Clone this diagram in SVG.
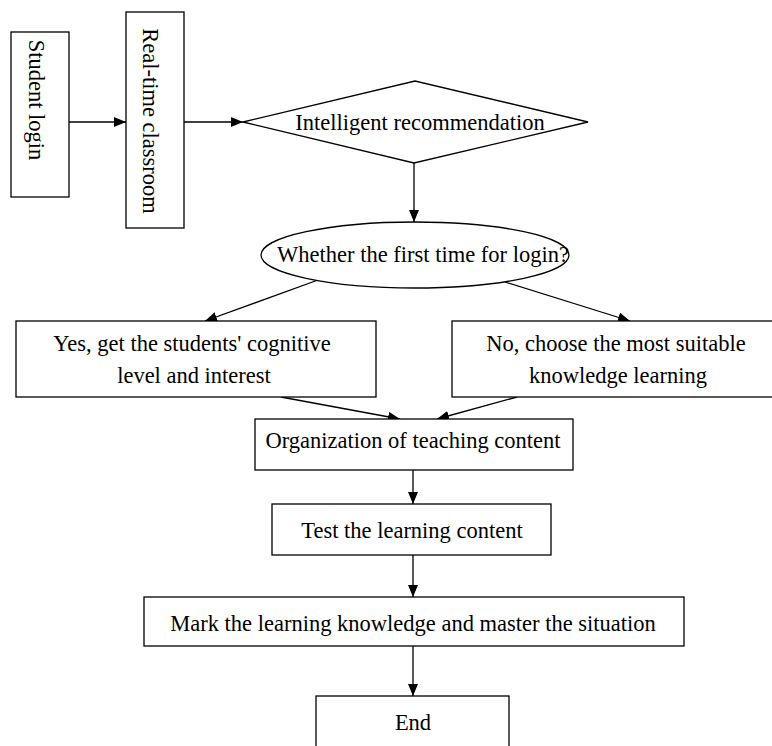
<svg xmlns="http://www.w3.org/2000/svg" width="772" height="746" viewBox="0 0 772 746">
<style>
.n{fill:#fff;stroke:#000;stroke-width:1.3}
.t{font-family:"Liberation Serif","Times New Roman",serif;font-size:22.5px;fill:#000;text-anchor:middle}
.c{stroke:#000;stroke-width:1.3;fill:none;marker-end:url(#ah)}
</style>
<defs>
<marker id="ah" viewBox="0 0 12 10" refX="12" refY="5" markerWidth="12" markerHeight="10" markerUnits="userSpaceOnUse" orient="auto">
<path d="M0,0 L12,5 L0,10 z" fill="#000"/>
</marker>
</defs>
<rect width="772" height="746" fill="#fff"/>
<g id="connectors">
<line class="c" x1="69" y1="122" x2="126" y2="122"/>
<line class="c" x1="184" y1="122" x2="243" y2="122"/>
<line class="c" x1="414" y1="163" x2="414" y2="222"/>
<line class="c" x1="318" y1="280" x2="205" y2="321"/>
<line class="c" x1="505" y1="282" x2="630" y2="321"/>
<line class="c" x1="281" y1="397" x2="400" y2="419"/>
<line class="c" x1="517" y1="397" x2="437" y2="419"/>
<line class="c" x1="413" y1="470" x2="413" y2="504"/>
<line class="c" x1="413" y1="555" x2="413" y2="597"/>
<line class="c" x1="413" y1="646" x2="413" y2="696"/>
</g>
<g id="student-login">
<rect class="n" x="11" y="32" width="58" height="165"/>
<text class="t" transform="translate(29,100) rotate(90)">Student login</text>
</g>
<g id="real-time-classroom">
<rect class="n" x="126" y="12" width="58" height="216"/>
<text class="t" transform="translate(143,121) rotate(90)">Real-time classroom</text>
</g>
<g id="intelligent-recommendation">
<polygon class="n" points="243,122 415,81 588,122 414,163"/>
<text class="t" x="420" y="130">Intelligent recommendation</text>
</g>
<g id="first-time">
<ellipse class="n" cx="415" cy="255" rx="154" ry="33"/>
<text class="t" x="423" y="262">Whether the first time for login?</text>
</g>
<g id="yes">
<rect class="n" x="16" y="321" width="360" height="76"/>
<text class="t" x="192" y="351">Yes, get the students' cognitive</text>
<text class="t" x="194" y="383">level and interest</text>
</g>
<g id="no">
<rect class="n" x="452" y="321" width="325" height="76"/>
<text class="t" x="616" y="351">No, choose the most suitable</text>
<text class="t" x="618" y="383">knowledge learning</text>
</g>
<g id="organization">
<rect class="n" x="255" y="419" width="318" height="51"/>
<text class="t" x="413" y="448">Organization of teaching content</text>
</g>
<g id="test">
<rect class="n" x="272" y="504" width="279" height="51"/>
<text class="t" x="412" y="538">Test the learning content</text>
</g>
<g id="mark">
<rect class="n" x="144" y="597" width="540" height="49"/>
<text class="t" x="413" y="631">Mark the learning knowledge and master the situation</text>
</g>
<g id="end">
<rect class="n" x="316" y="696" width="193" height="60"/>
<text class="t" x="413" y="730">End</text>
</g>
</svg>
